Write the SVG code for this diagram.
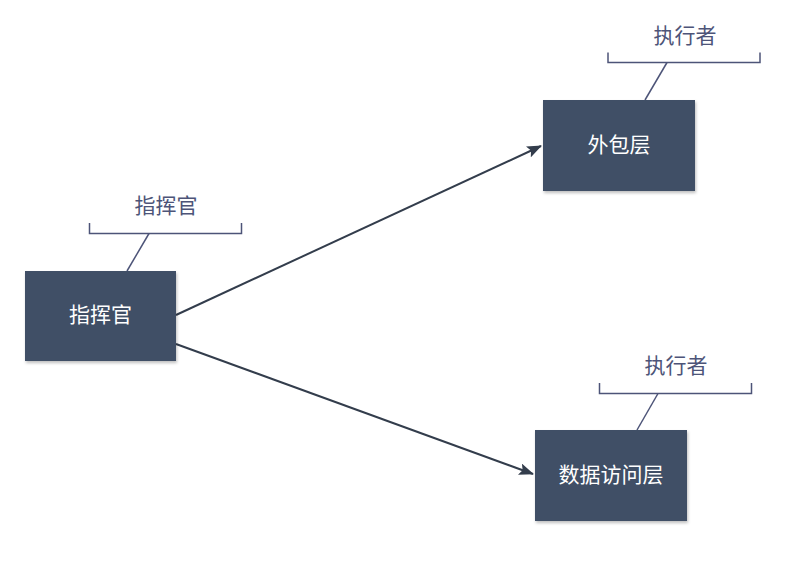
<svg xmlns="http://www.w3.org/2000/svg" width="800" height="570" viewBox="0 0 800 570">
<style>
.node{fill:#3f5066;}
.nt{fill:#ffffff;font-family:"Noto Sans CJK SC","Noto Sans",sans-serif;font-size:21px;text-anchor:middle;dominant-baseline:central;}
.ct{fill:#4d5478;font-family:"Noto Sans CJK SC","Noto Sans",sans-serif;font-size:21px;text-anchor:middle;}
.br{fill:none;stroke:#4d5478;stroke-width:1.5;}
.conn{stroke:#333d4c;stroke-width:2;fill:none;}
</style>
<defs>
<filter id="sh" x="-10%" y="-10%" width="125%" height="130%">
<feDropShadow dx="1" dy="2" stdDeviation="1.5" flood-color="#000" flood-opacity="0.25"/>
</filter>
<marker id="ah" markerWidth="16" markerHeight="12" refX="14" refY="6" orient="auto" markerUnits="userSpaceOnUse">
<path d="M0,0 L15,6 L0,12 L3,6 Z" fill="#333d4c"/>
</marker>
</defs>
<rect width="800" height="570" fill="#ffffff"/>
<g id="connectors">
<line class="conn" x1="176" y1="315" x2="541" y2="146" marker-end="url(#ah)"/>
<line class="conn" x1="176" y1="344" x2="533" y2="474" marker-end="url(#ah)"/>
</g>
<g id="callout-commander">
<text class="ct" x="166" y="213">指挥官</text>
<path class="br" d="M89.5,223 V233.5 H241.5 V223"/>
<line class="br" x1="149" y1="233.5" x2="127" y2="271"/>
</g>
<g id="callout-outsource">
<text class="ct" x="685" y="43">执行者</text>
<path class="br" d="M608,52.5 V62.5 H760 V52.5"/>
<line class="br" x1="667" y1="62.5" x2="645" y2="100"/>
</g>
<g id="callout-dao">
<text class="ct" x="676" y="373">执行者</text>
<path class="br" d="M599.5,383 V393.5 H751.5 V383"/>
<line class="br" x1="658" y1="393.5" x2="637" y2="430"/>
</g>
<g id="node-commander">
<rect class="node" x="25" y="271" width="151" height="90" filter="url(#sh)"/>
<text class="nt" x="100.5" y="313">指挥官</text>
</g>
<g id="node-outsource">
<rect class="node" x="543" y="100" width="152" height="91" filter="url(#sh)"/>
<text class="nt" x="619" y="143">外包层</text>
</g>
<g id="node-dao">
<rect class="node" x="535" y="430" width="152" height="91" filter="url(#sh)"/>
<text class="nt" x="611" y="473">数据访问层</text>
</g>
</svg>
